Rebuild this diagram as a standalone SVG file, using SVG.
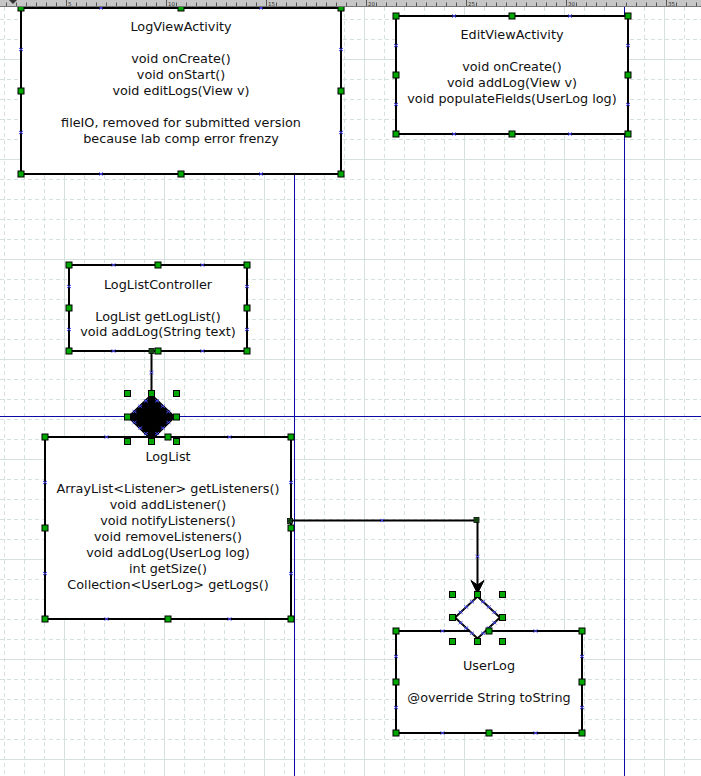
<svg xmlns="http://www.w3.org/2000/svg" xmlns:xlink="http://www.w3.org/1999/xlink" width="701" height="776" viewBox="0 0 701 776">
<style>
.gmin{stroke:#d4e1dd;stroke-width:1;stroke-dasharray:4 3;fill:none}
.gmaj{stroke:#d4e1dd;stroke-width:1;fill:none}
.guide{stroke:#0c0ca4;stroke-width:1;fill:none}
.box{fill:#fff;stroke:#000;stroke-width:2}
.conn{stroke:#000;stroke-width:2;fill:none}
.hd{fill:#00a800;stroke:#000;stroke-width:1}
.cp{stroke:#4646ee;stroke-width:1;fill:none}
.txt{font-family:"DejaVu Sans","Liberation Sans",sans-serif;font-size:12.8px;fill:#111;text-anchor:middle}
.rl{font-family:"DejaVu Sans","Liberation Sans",sans-serif;font-size:5.5px;fill:#333}
.em{fill:#2b8a2b;stroke:#000;stroke-width:0.8}
.emx{stroke:#000;stroke-width:0.6;fill:none}
</style>
<defs>
<rect id="hd" class="hd" x="-3" y="-3" width="6" height="6"/>
<path id="cp" class="cp" d="M-2,-1.5 L2,1.5 M-2,1.5 L2,-1.5"/>
<g id="em"><rect class="em" x="-2.5" y="-2.5" width="5" height="5"/><circle class="emx" r="1.7"/><path class="emx" d="M-1.2,-1.2 L1.2,1.2 M-1.2,1.2 L1.2,-1.2"/></g>
</defs>
<rect x="0" y="0" width="701" height="776" fill="#fff"/>
<g id="grid">
<path class="gmin" d="M4.5,0V776M24.5,0V776M44.5,0V776M84.5,0V776M104.5,0V776M124.5,0V776M144.5,0V776M184.5,0V776M204.5,0V776M224.5,0V776M244.5,0V776M284.5,0V776M304.5,0V776M324.5,0V776M344.5,0V776M384.5,0V776M404.5,0V776M424.5,0V776M444.5,0V776M484.5,0V776M504.5,0V776M524.5,0V776M544.5,0V776M584.5,0V776M604.5,0V776M624.5,0V776M644.5,0V776M684.5,0V776"/>
<path class="gmin" d="M0,19.5H701M0,39.5H701M0,79.5H701M0,99.5H701M0,119.5H701M0,139.5H701M0,179.5H701M0,199.5H701M0,219.5H701M0,239.5H701M0,279.5H701M0,299.5H701M0,319.5H701M0,339.5H701M0,379.5H701M0,399.5H701M0,419.5H701M0,439.5H701M0,479.5H701M0,499.5H701M0,519.5H701M0,539.5H701M0,579.5H701M0,599.5H701M0,619.5H701M0,639.5H701M0,679.5H701M0,699.5H701M0,719.5H701M0,739.5H701"/>
<path class="gmaj" d="M64.5,0V776M164.5,0V776M264.5,0V776M364.5,0V776M464.5,0V776M564.5,0V776M664.5,0V776M0,59.5H701M0,159.5H701M0,259.5H701M0,359.5H701M0,459.5H701M0,559.5H701M0,659.5H701M0,759.5H701"/>
</g>
<g id="guides">
<path class="guide" d="M294.5,0V776M624.5,0V776M0,416.5H701"/>
</g>
<g id="connectors">
<path class="conn" d="M151.5,351V396"/>
<path class="conn" d="M290,520.5H477.5V586"/>
<polygon points="477.5,593.5 471,580.5 477.5,585 484,580.5" fill="#000" stroke="#000" stroke-width="1"/>
</g>
<g id="LogViewActivity">
<rect class="box" x="21" y="8" width="320" height="166"/>
<text class="txt" x="181" y="31">LogViewActivity</text>
<text class="txt" x="181" y="63">void onCreate()</text>
<text class="txt" x="181" y="79">void onStart()</text>
<text class="txt" x="181" y="95">void editLogs(View v)</text>
<text class="txt" x="181" y="127">fileIO, removed for submitted version</text>
<text class="txt" x="181" y="143">because lab comp error frenzy</text>
</g>
<g id="EditViewActivity">
<rect class="box" x="396" y="16" width="232" height="118"/>
<text class="txt" x="512" y="39">EditViewActivity</text>
<text class="txt" x="512" y="71">void onCreate()</text>
<text class="txt" x="512" y="87">void addLog(View v)</text>
<text class="txt" x="512" y="103">void populateFields(UserLog log)</text>
</g>
<g id="LogListController">
<rect class="box" x="69" y="265" width="178" height="86"/>
<text class="txt" x="158" y="288.5">LogListController</text>
<text class="txt" x="158" y="320.5">LogList getLogList()</text>
<text class="txt" x="158" y="336">void addLog(String text)</text>
</g>
<g id="LogList">
<rect class="box" x="45" y="437" width="246" height="182"/>
<text class="txt" x="168" y="460.5">LogList</text>
<text class="txt" x="168" y="492.5">ArrayList&lt;Listener&gt; getListeners()</text>
<text class="txt" x="168" y="508.5">void addListener()</text>
<text class="txt" x="168" y="524.5">void notifyListeners()</text>
<text class="txt" x="168" y="540.5">void removeListeners()</text>
<text class="txt" x="168" y="556.5">void addLog(UserLog log)</text>
<text class="txt" x="168" y="572.5">int getSize()</text>
<text class="txt" x="168" y="588.5">Collection&lt;UserLog&gt; getLogs()</text>
</g>
<g id="UserLog">
<rect class="box" x="396" y="631" width="186" height="102"/>
<text class="txt" x="489" y="670">UserLog</text>
<text class="txt" x="489" y="702">@override String toString</text>
</g>
<g id="AggregationDiamond">
<polygon points="151.5,395 174.5,417 151.5,439.5 128.5,417" fill="#000" stroke="#000" stroke-width="2"/>
</g>
<g id="AssociationDiamond">
<polygon points="477.5,596.5 500,617.5 477.5,638.5 455,617.5" fill="#fff" stroke="#000" stroke-width="2"/>
</g>
<g id="connectionPoints">
<use href="#cp" x="101" y="8"/><use href="#cp" x="261" y="8"/><use href="#cp" x="101" y="174"/><use href="#cp" x="261" y="174"/>
<use href="#cp" x="21" y="49.5"/><use href="#cp" x="21" y="132.5"/><use href="#cp" x="341" y="49.5"/><use href="#cp" x="341" y="132.5"/>
<use href="#cp" x="454" y="16"/><use href="#cp" x="570" y="16"/><use href="#cp" x="454" y="134"/><use href="#cp" x="570" y="134"/>
<use href="#cp" x="396" y="45.5"/><use href="#cp" x="396" y="104.5"/><use href="#cp" x="628" y="45.5"/><use href="#cp" x="628" y="104.5"/>
<use href="#cp" x="113.5" y="265"/><use href="#cp" x="202.5" y="265"/><use href="#cp" x="113.5" y="351"/><use href="#cp" x="202.5" y="351"/>
<use href="#cp" x="69" y="286.5"/><use href="#cp" x="69" y="329.5"/><use href="#cp" x="247" y="286.5"/><use href="#cp" x="247" y="329.5"/>
<use href="#cp" x="106.5" y="437"/><use href="#cp" x="229.5" y="437"/><use href="#cp" x="106.5" y="619"/><use href="#cp" x="229.5" y="619"/>
<use href="#cp" x="45" y="482.5"/><use href="#cp" x="45" y="573.5"/><use href="#cp" x="291" y="482.5"/><use href="#cp" x="291" y="573.5"/>
<use href="#cp" x="442.5" y="631"/><use href="#cp" x="535.5" y="631"/><use href="#cp" x="442.5" y="733"/><use href="#cp" x="535.5" y="733"/>
<use href="#cp" x="396" y="656.5"/><use href="#cp" x="396" y="707.5"/><use href="#cp" x="582" y="656.5"/><use href="#cp" x="582" y="707.5"/>
<use href="#cp" x="151.5" y="372.5"/><use href="#cp" x="382" y="520.5"/><use href="#cp" x="477.5" y="556.5"/>
<use href="#cp" x="157.1" y="400.9"/><use href="#cp" x="162.75" y="406.25"/><use href="#cp" x="168.4" y="411.6"/>
<use href="#cp" x="168.4" y="422.4"/><use href="#cp" x="162.75" y="428"/><use href="#cp" x="157.1" y="433.6"/>
<use href="#cp" x="145.9" y="433.6"/><use href="#cp" x="140.25" y="428"/><use href="#cp" x="134.6" y="422.4"/>
<use href="#cp" x="134.6" y="411.6"/><use href="#cp" x="140.25" y="406.25"/><use href="#cp" x="145.9" y="400.9"/>
<use href="#cp" x="483.1" y="601.75"/><use href="#cp" x="488.75" y="607"/><use href="#cp" x="494.4" y="612.25"/>
<use href="#cp" x="494.4" y="622.75"/><use href="#cp" x="488.75" y="628"/><use href="#cp" x="483.1" y="633.25"/>
<use href="#cp" x="471.9" y="633.25"/><use href="#cp" x="466.25" y="628"/><use href="#cp" x="460.6" y="622.75"/>
<use href="#cp" x="460.6" y="612.25"/><use href="#cp" x="466.25" y="607"/><use href="#cp" x="471.9" y="601.75"/>
</g>
<g id="handles">
<use href="#hd" x="21" y="8"/><use href="#hd" x="181" y="8"/><use href="#hd" x="341" y="8"/><use href="#hd" x="21" y="91"/><use href="#hd" x="341" y="91"/><use href="#hd" x="21" y="174"/><use href="#hd" x="181" y="174"/><use href="#hd" x="341" y="174"/>
<use href="#hd" x="396" y="16"/><use href="#hd" x="512" y="16"/><use href="#hd" x="628" y="16"/><use href="#hd" x="396" y="75"/><use href="#hd" x="628" y="75"/><use href="#hd" x="396" y="134"/><use href="#hd" x="512" y="134"/><use href="#hd" x="628" y="134"/>
<use href="#hd" x="69" y="265"/><use href="#hd" x="158" y="265"/><use href="#hd" x="247" y="265"/><use href="#hd" x="69" y="308"/><use href="#hd" x="247" y="308"/><use href="#hd" x="69" y="351"/><use href="#hd" x="158" y="351"/><use href="#hd" x="247" y="351"/>
<use href="#hd" x="127.5" y="393.5"/><use href="#hd" x="151.5" y="393.5"/><use href="#hd" x="176.5" y="393.5"/><use href="#hd" x="127.5" y="417"/><use href="#hd" x="176.5" y="417"/><use href="#hd" x="127.5" y="441.5"/><use href="#hd" x="151.5" y="441.5"/><use href="#hd" x="176.5" y="441.5"/>
<use href="#hd" x="45" y="437"/><use href="#hd" x="168" y="437"/><use href="#hd" x="291" y="437"/><use href="#hd" x="45" y="528"/><use href="#hd" x="291" y="528"/><use href="#hd" x="45" y="619"/><use href="#hd" x="168" y="619"/><use href="#hd" x="291" y="619"/>
<use href="#hd" x="452.5" y="594.5"/><use href="#hd" x="477.5" y="594.5"/><use href="#hd" x="502.5" y="594.5"/><use href="#hd" x="452.5" y="617.5"/><use href="#hd" x="502.5" y="617.5"/><use href="#hd" x="452.5" y="641.5"/><use href="#hd" x="477.5" y="641.5"/><use href="#hd" x="502.5" y="641.5"/>
<use href="#hd" x="396" y="631"/><use href="#hd" x="489" y="631"/><use href="#hd" x="582" y="631"/><use href="#hd" x="396" y="682"/><use href="#hd" x="582" y="682"/><use href="#hd" x="396" y="733"/><use href="#hd" x="489" y="733"/><use href="#hd" x="582" y="733"/>
<use href="#em" x="151.5" y="351"/><use href="#em" x="290" y="521"/><use href="#em" x="476.5" y="520"/>
</g>
<g id="ruler">
<rect x="0" y="0" width="701" height="6" fill="#c6c6c6"/>
<path d="M6.5,2.5V6M16.5,2.5V6M26.5,2.5V6M36.5,2.5V6M46.5,2.5V6M56.5,2.5V6M66.5,0V6M76.5,2.5V6M86.5,2.5V6M96.5,2.5V6M106.5,2.5V6M116.5,2.5V6M126.5,2.5V6M136.5,2.5V6M146.5,2.5V6M156.5,2.5V6M166.5,0V6M176.5,2.5V6M186.5,2.5V6M196.5,2.5V6M206.5,2.5V6M216.5,2.5V6M226.5,2.5V6M236.5,2.5V6M246.5,2.5V6M256.5,2.5V6M266.5,0V6M276.5,2.5V6M286.5,2.5V6M296.5,2.5V6M306.5,2.5V6M316.5,2.5V6M326.5,2.5V6M336.5,2.5V6M346.5,2.5V6M356.5,2.5V6M366.5,0V6M376.5,2.5V6M386.5,2.5V6M396.5,2.5V6M406.5,2.5V6M416.5,2.5V6M426.5,2.5V6M436.5,2.5V6M446.5,2.5V6M456.5,2.5V6M466.5,0V6M476.5,2.5V6M486.5,2.5V6M496.5,2.5V6M506.5,2.5V6M516.5,2.5V6M526.5,2.5V6M536.5,2.5V6M546.5,2.5V6M556.5,2.5V6M566.5,0V6M576.5,2.5V6M586.5,2.5V6M596.5,2.5V6M606.5,2.5V6M616.5,2.5V6M626.5,2.5V6M636.5,2.5V6M646.5,2.5V6M656.5,2.5V6M666.5,0V6M676.5,2.5V6M686.5,2.5V6M696.5,2.5V6" stroke="#555" stroke-width="1" fill="none"/>
<text class="rl" x="68" y="5.5">5</text><text class="rl" x="168" y="5.5">10</text><text class="rl" x="268" y="5.5">15</text><text class="rl" x="368" y="5.5">20</text><text class="rl" x="468" y="5.5">25</text><text class="rl" x="568" y="5.5">30</text><text class="rl" x="668" y="5.5">35</text>
<path d="M0,6.5H701" stroke="#777" stroke-width="1"/>
<polygon points="9,0 17,0 13,4" fill="#333"/>
</g>
</svg>
